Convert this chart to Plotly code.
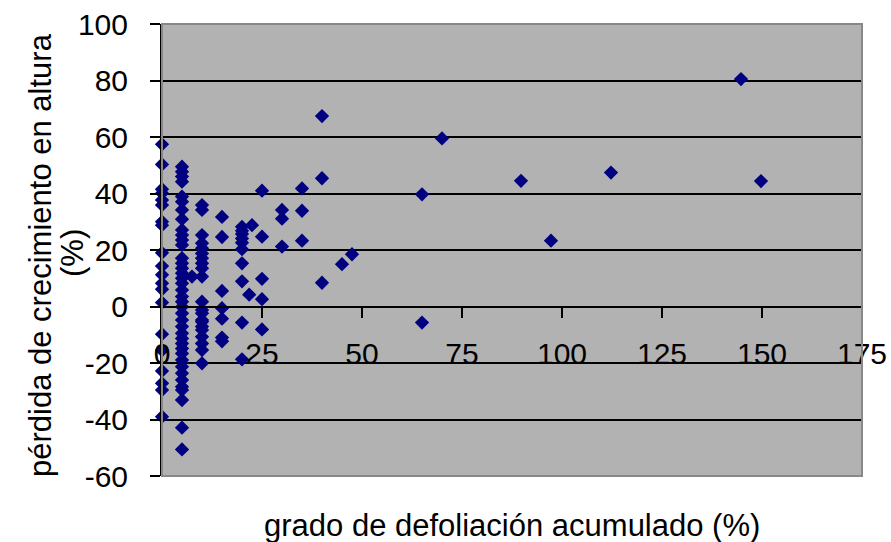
import plotly.graph_objects as go

# defoliation (%) columns and growth-loss values (%)
x0_vals = [57.4, 50.3, 41.5, 40.1, 37.7, 35.9, 30.0, 28.8, 19.0, 14.3, 11.2, 8.2, 6.1, 1.4,
           -9.8, -15.5, -22.8, -27.2, -29.6, -39.0]
x5_vals = [49.5, 47.7, 46.0, 44.2, 38.9, 37.1, 34.2, 30.9, 27.1, 25.3, 23.5, 21.8, 17.1, 15.3,
           13.5, 11.8, 10.0, 8.2, 5.8, 3.5, 1.7, -0.1, -2.4, -4.8, -7.1, -9.5, -11.3, -13.1,
           -14.9, -16.6, -18.9, -21.3, -23.6, -26.0, -28.4, -29.6, -33.1, -42.9, -50.6]
x10_vals = [35.9, 34.2, 25.3, 22.4, 20.6, 18.8, 17.1, 15.3, 13.5, 10.6, 1.7, -1.2, -2.4, -4.8,
            -5.4, -7.1, -8.3, -10.7, -13.1, -15.4, -20.1]
x15_vals = [31.7, 24.6, 5.5, -0.6, -4.3, -11.0, -12.3]
x20_vals = [28.2, 26.8, 25.7, 24.1, 22.6, 20.3, 15.3, 8.9, -5.7, -18.7]
x25_vals = [41.0, 24.7, 9.8, 2.6, -8.1]
x30_vals = [34.2, 31.1, 21.2]
x35_vals = [41.8, 33.9, 23.3]
x40_vals = [67.4, 45.4, 8.4]
x65_vals = [39.7, -5.7]

other_x = [7.5, 21.8, 22.5, 45, 47.5, 70, 89.75, 97.25, 112.25, 144.75, 149.75]
other_y = [10.6, 4.2, 28.8, 15.0, 18.5, 59.5, 44.5, 23.3, 47.4, 80.5, 44.4]

columns = [(0, x0_vals), (5, x5_vals), (10, x10_vals), (15, x15_vals), (20, x20_vals),
           (25, x25_vals), (30, x30_vals), (35, x35_vals), (40, x40_vals), (65, x65_vals)]

xs, ys = [], []
for cx, vals in columns:
    xs += [cx] * len(vals)
    ys += vals
xs += other_x
ys += other_y

x_ticks = [0, 25, 50, 75, 100, 125, 150, 175]
y_ticks = [-60, -40, -20, 0, 20, 40, 60, 80, 100]

FONT = "Liberation Sans, Arial, sans-serif"

fig = go.Figure()
fig.add_trace(go.Scatter(
    x=xs, y=ys, mode="markers",
    marker=dict(symbol="diamond", size=11, color="#000080", line=dict(width=0)),
    showlegend=False, cliponaxis=False,
))

fig.update_layout(
    width=891, height=542,
    margin=dict(l=162, r=29, t=24, b=66),
    paper_bgcolor="white", plot_bgcolor="#B2B2B2",
    font=dict(family=FONT, size=30, color="black"),
    xaxis=dict(
        range=[0, 175], tickvals=x_ticks, ticktext=[str(v) for v in x_ticks],
        anchor="free", position=60 / 160, showline=True, linecolor="black", linewidth=2,
        ticks="outside", ticklen=10, tickwidth=2, tickcolor="black",
        showgrid=False, zeroline=False, ticklabelstandoff=10, automargin=False,
        tickfont=dict(family=FONT, size=30, color="black"),
    ),
    yaxis=dict(
        range=[-60, 100], tickvals=y_ticks, ticktext=[str(v) for v in y_ticks],
        domain=[0, 1], showline=True, linecolor="black", linewidth=2,
        ticks="outside", ticklen=10, tickwidth=2, tickcolor="black",
        showgrid=True, gridcolor="black", gridwidth=2, zeroline=False,
        ticklabelstandoff=16, automargin=False,
        tickfont=dict(family=FONT, size=30, color="black"),
    ),
    shapes=[dict(type="rect", xref="paper", yref="paper", x0=0, x1=1, y0=0, y1=1,
                 line=dict(color="#888888", width=2), layer="above")],
    annotations=[
        dict(text="grado de defoliación acumulado (%)", xref="paper", yref="paper",
             x=0.5, y=0, yshift=-49, xanchor="center", yanchor="middle", showarrow=False,
             font=dict(family=FONT, size=31, color="black")),
        dict(text="pérdida de crecimiento en altura", xref="paper", yref="paper",
             x=0, xshift=-122, y=0.5, yshift=-5, xanchor="center", yanchor="middle",
             showarrow=False, textangle=-90, font=dict(family=FONT, size=31, color="black")),
        dict(text="(%)", xref="paper", yref="paper",
             x=0, xshift=-90, y=0.5, yshift=-3, xanchor="center", yanchor="middle",
             showarrow=False, textangle=-90, font=dict(family=FONT, size=31, color="black")),
    ],
)

fig.write_html("out.html")
